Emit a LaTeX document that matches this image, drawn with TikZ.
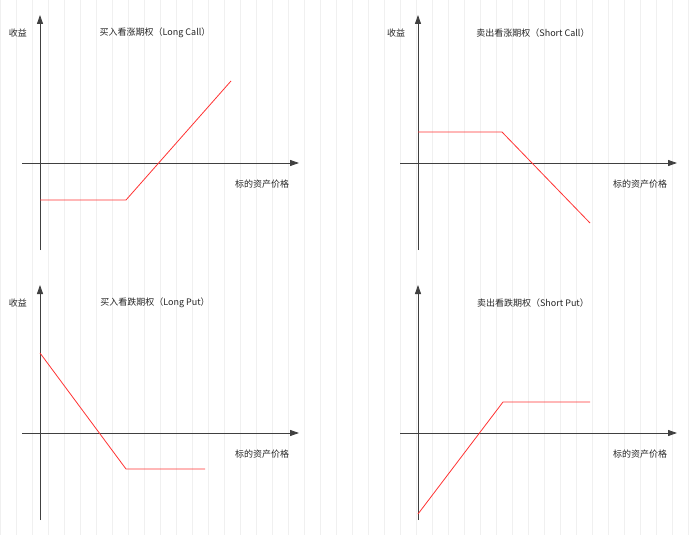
\documentclass[tikz,border=0pt]{standalone}
\usepackage{fontspec}
\setmainfont{Noto Sans CJK SC}
\usetikzlibrary{arrows.meta}
\begin{document}
\begin{tikzpicture}[x=1pt,y=-1pt,
 ax/.style={draw=black!75,line width=0.9pt,-{Triangle[length=9pt,width=6pt]}},
 pay/.style={draw=red!75!black!90,line width=0.8pt,red!80},
 lab/.style={font=\fontsize{9}{10}\selectfont,text=black!85,inner sep=0pt}]
\useasboundingbox (0,0) rectangle (689,535);
\fill[white] (0,0) rectangle (689,535);
\draw[black!6,line width=0.5pt] (0,0) grid[step=16] (689,535);
\foreach \ox/\oy/\t/\s [count=\i] in {0/0/买入看涨期权（Long Call）/1,378/0/卖出看涨期权（Short Call）/0,0/270/买入看跌期权（Long Put）/1,378/270/卖出看跌期权（Short Put）/0}{
 \begin{scope}[shift={(\ox,\oy)}]
 \coordinate (yb\i) at (40,250); \coordinate (yt\i) at (40,15);
 \coordinate (xl\i) at (22,163); \coordinate (xr\i) at (299,163);
 \draw[ax] (yb\i) -- (yt\i);
 \draw[ax] (xl\i) -- (xr\i);
 \node[lab] (t\i) at (155,33) {\t};
 \node[lab] (x\i) at (262,184) {标的资产价格};
 \ifnum\s=1 \node[lab] (s\i) at (18,33) {收益};\fi
 \end{scope}}
\node[lab] at (396,33) {收益};
\coordinate (a1) at (40,200); \coordinate (a2) at (126,200); \coordinate (a3) at (231,81);
\draw[pay] (a1) -- (a2) -- (a3);
\coordinate (b1) at (418,132); \coordinate (b2) at (502,132); \coordinate (b3) at (590,223);
\draw[pay] (b1) -- (b2) -- (b3);
\coordinate (c1) at (40,353); \coordinate (c2) at (126,469); \coordinate (c3) at (205,469);
\draw[pay] (c1) -- (c2) -- (c3);
\coordinate (d1) at (418,514); \coordinate (d2) at (503,402); \coordinate (d3) at (590,402);
\draw[pay] (d1) -- (d2) -- (d3);
\end{tikzpicture}
\end{document}
